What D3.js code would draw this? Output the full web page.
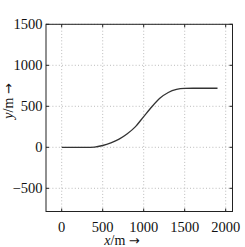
<!DOCTYPE html>
<html><head><meta charset="utf-8">
<script src="https://cdn.jsdelivr.net/npm/d3@7"></script>
<style>body{margin:0;background:#fff}svg{display:block}</style>
</head><body>
<svg id="c" width="245" height="247"></svg>
<script>
const xs = [0,100,200,300,400,500,600,700,800,900,1000,1100,1200,1300,1400,1500,1600,1700,1800,1900];
const ys = [0,0,0,0,3,22,55,100,165,252,375,495,600,668,705,718,720,720,720,720];
const xTicks = [0,500,1000,1500,2000];
const yTicks = [-500,0,500,1000,1500];

const svg = d3.select("#c");
const L=46, R=232.5, T=24.3, B=211.5;
const x = d3.scaleLinear().domain([0,2000]).range([61.7,225.7]);
const y = d3.scaleLinear().domain([0,1500]).range([147.3,24.3]);
const font = "'Liberation Serif','DejaVu Serif',serif";

// grid
const g = svg.append("g");
g.selectAll(".gx").data(xTicks).join("line")
  .attr("x1",d=>x(d)).attr("x2",d=>x(d)).attr("y1",T).attr("y2",B)
  .attr("stroke","#aaa").attr("stroke-width",0.8).attr("stroke-dasharray","1,2.2");
g.selectAll(".gy").data(yTicks).join("line")
  .attr("y1",d=>y(d)).attr("y2",d=>y(d)).attr("x1",L).attr("x2",R)
  .attr("stroke","#aaa").attr("stroke-width",0.8).attr("stroke-dasharray","1,2.2");

// curve
const line = d3.line().x((d,i)=>x(xs[i])).y(d=>y(d)).curve(d3.curveMonotoneX);
svg.append("path").attr("d",line(ys)).attr("fill","none")
  .attr("stroke","#333").attr("stroke-width",1.3);

// frame
svg.append("rect").attr("x",L).attr("y",T).attr("width",R-L).attr("height",B-T)
  .attr("fill","none").attr("stroke","#222").attr("stroke-width",1);
// ticks inward
const tk=3;
xTicks.forEach(d=>{
  svg.append("line").attr("x1",x(d)).attr("x2",x(d)).attr("y1",B).attr("y2",B-tk).attr("stroke","#222");
  svg.append("line").attr("x1",x(d)).attr("x2",x(d)).attr("y1",T).attr("y2",T+tk).attr("stroke","#222");
});
yTicks.forEach(d=>{
  svg.append("line").attr("y1",y(d)).attr("y2",y(d)).attr("x1",L).attr("x2",L+tk).attr("stroke","#222");
  svg.append("line").attr("y1",y(d)).attr("y2",y(d)).attr("x1",R).attr("x2",R-tk).attr("stroke","#222");
});

// tick labels
svg.selectAll(".xl").data(xTicks).join("text")
  .attr("x",d=>x(d)).attr("y",231.5).attr("text-anchor","middle")
  .attr("font-family",font).attr("font-size",14.5).attr("fill","#111")
  .text(d=>d);
svg.selectAll(".yl").data(yTicks).join("text")
  .attr("x",42.5).attr("y",d=>y(d)+5).attr("text-anchor","end")
  .attr("font-family",font).attr("font-size",14.5).attr("fill","#111")
  .text(d=>d<0?"\u2212"+Math.abs(d):d);

// axis labels
const xl = svg.append("text").attr("x",122).attr("y",245).attr("text-anchor","middle")
  .attr("font-family",font).attr("font-size",14).attr("fill","#111");
xl.append("tspan").attr("font-style","italic").text("x");
xl.append("tspan").text("/m ");
xl.append("tspan").attr("font-family","'DejaVu Sans',sans-serif").attr("font-size",13).text("\u2192");
const yl = svg.append("text").attr("transform","translate(12.5,101) rotate(-90)").attr("text-anchor","middle")
  .attr("font-family",font).attr("font-size",14).attr("fill","#111");
yl.append("tspan").attr("font-style","italic").text("y");
yl.append("tspan").text("/m ");
yl.append("tspan").attr("font-family","'DejaVu Sans',sans-serif").attr("font-size",13).text("\u2192");
</script>
</body></html>
